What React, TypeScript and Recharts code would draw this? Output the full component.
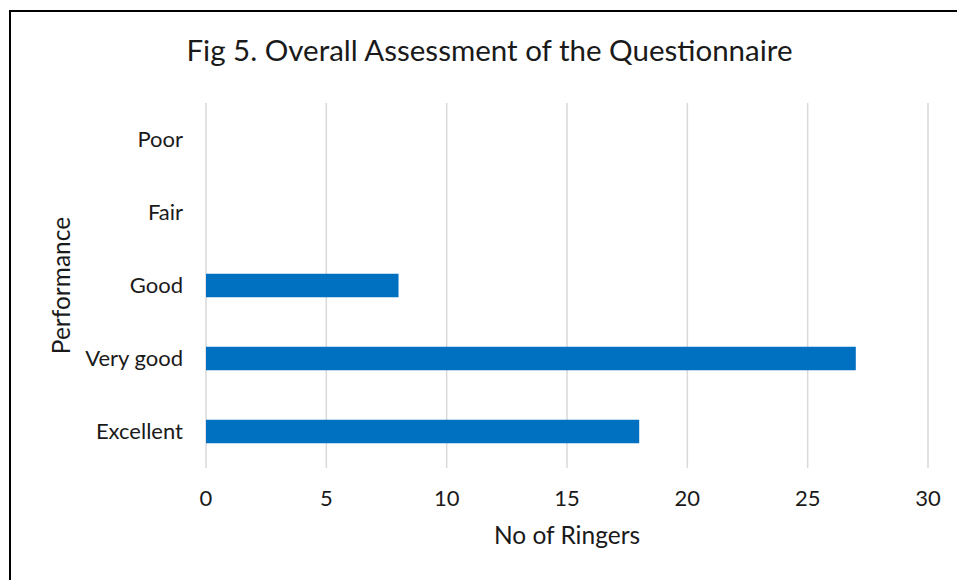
import { BarChart, Bar, XAxis, YAxis, CartesianGrid, Label } from 'recharts';

const categories = ['Poor', 'Fair', 'Good', 'Very good', 'Excellent'];
const ringers = [0, 0, 8, 27, 18];
const xTicks = [0, 5, 10, 15, 20, 25, 30];

const data = categories.map((name, i) => ({ name, ringers: ringers[i] }));

const FONT = 'Lato, "Open Sans", sans-serif';

export default function App() {
  return (
    <div style={{ position: 'absolute', left: 0, top: 0, width: 957, height: 580, background: '#fff', overflow: 'hidden', fontFamily: FONT }}>
      {/* chart frame, cut off at the right and bottom like the source image */}
      <div style={{ position: 'absolute', left: 9, top: 10, width: 1000, height: 700, border: '2px solid #000', boxSizing: 'border-box' }} />
      <div style={{ position: 'absolute', left: 0, top: 32, width: 979, textAlign: 'center', fontSize: 29.5, color: '#1a1a1a' }}>
        Fig 5. Overall Assessment of the Questionnaire
      </div>
      <div style={{ position: 'absolute', left: 0, top: 0 }}>
        <BarChart
          width={957}
          height={580}
          data={data}
          layout="vertical"
          barCategoryGap="66%"
          margin={{ top: 103, right: 29, bottom: 32, left: 0 }}
        >
          <CartesianGrid horizontal={false} stroke="#d9d9d9" strokeWidth={1.5} />
          <XAxis
            type="number"
            domain={[0, 30]}
            ticks={xTicks}
            axisLine={false}
            tickLine={false}
            tickSize={0}
            tickMargin={22}
            height={80}
            tick={{ fill: '#1a1a1a', fontSize: 22, fontFamily: FONT }}
          >
            <Label value="No of Ringers" position="insideBottom" offset={4} style={{ fill: '#1a1a1a', fontSize: 24.5, fontFamily: FONT }} />
          </XAxis>
          <YAxis
            type="category"
            dataKey="name"
            width={206}
            axisLine={false}
            tickLine={false}
            tickSize={0}
            tickMargin={23}
            tick={{ fill: '#1a1a1a', fontSize: 22, fontFamily: FONT }}
          >
            <Label value="Performance" angle={-90} position="insideLeft" offset={61} style={{ fill: '#1a1a1a', fontSize: 24.5, fontFamily: FONT, textAnchor: 'middle' }} />
          </YAxis>
          <Bar dataKey="ringers" fill="#0070C0" isAnimationActive={false} />
        </BarChart>
      </div>
    </div>
  );
}
